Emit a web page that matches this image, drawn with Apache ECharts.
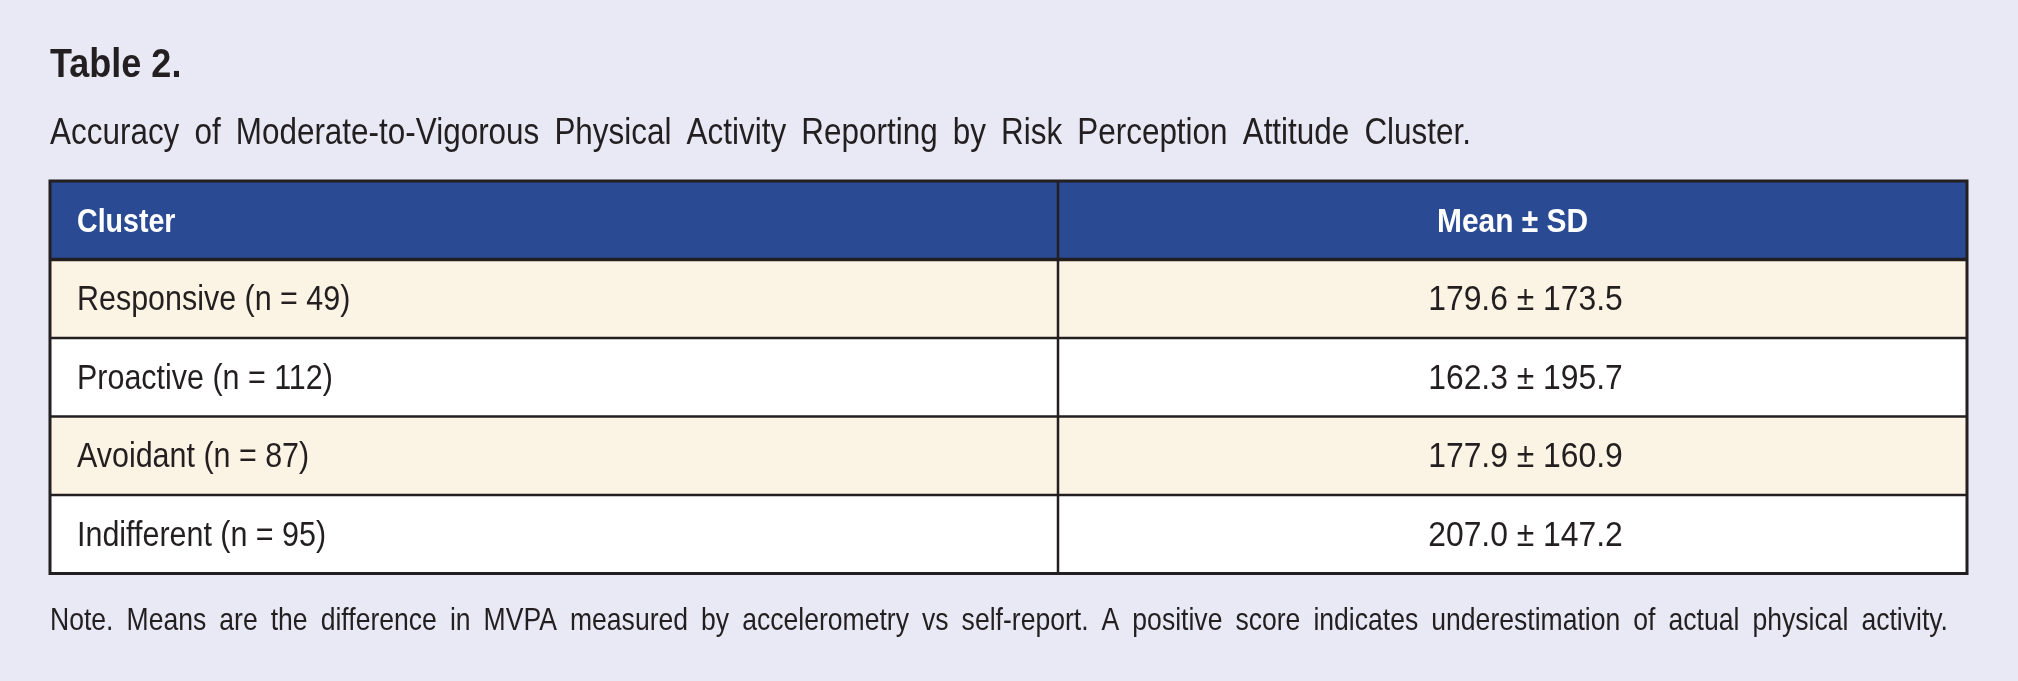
<!DOCTYPE html>
<html lang="en">
<head>
    <meta charset="utf-8">
    <title>Table 2</title>
    <script src="https://cdn.jsdelivr.net/npm/echarts@6.0.0/dist/echarts.min.js"></script>
    <style>
        html, body { margin: 0; padding: 0; background: #e9e9f5; }
        #chart { width: 2018px; height: 681px; }
    </style>
</head>
<body>
<div id="chart"></div>

<script>
    // table content
    var tableLabel = 'Table 2.';
    var caption = 'Accuracy of Moderate-to-Vigorous Physical Activity Reporting by Risk Perception Attitude Cluster.';
    var headers = ['Cluster', 'Mean \u00b1 SD'];
    var clusters = ['Responsive (n = 49)', 'Proactive (n = 112)', 'Avoidant (n = 87)', 'Indifferent (n = 95)'];
    var means = [179.6, 162.3, 177.9, 207.0];
    var sds = [173.5, 195.7, 160.9, 147.2];
    var note = 'Note. Means are the difference in MVPA measured by accelerometry vs self-report. A positive score indicates underestimation of actual physical activity.';

    // no narrow face installed, so squeeze Liberation Sans horizontally
    var FONT = "'Liberation Sans', Arial, sans-serif";
    var tblLeft = 50, tblRight = 1967, tblTop = 181, rowH = 78.5, colX = 1058;
    var headFill = '#2a4b93', creamFill = '#fbf3e3', lineCol = '#231f20';

    var measureCtx = document.createElement('canvas').getContext('2d');

    // spread the words of one line over a given width, like the justified print
    function justified(text, x, y, width, size, squeeze) {
        var font = 'normal ' + size + 'px ' + FONT;
        measureCtx.font = font;
        var words = text.split(' ');
        var widths = words.map(function (w) { return measureCtx.measureText(w).width * squeeze; });
        var total = widths.reduce(function (a, b) { return a + b; }, 0);
        var gap = (width - total) / (words.length - 1);
        var out = [], cx = x;
        words.forEach(function (w, i) {
            out.push({
                type: 'text', x: cx, y: y, scaleX: squeeze,
                style: { text: w, font: font, fill: '#231f20', textAlign: 'left', textVerticalAlign: 'middle' }
            });
            cx += widths[i] + gap;
        });
        return out;
    }

    function label(text, x, y, size, squeeze, opts) {
        opts = opts || {};
        return {
            type: 'text', x: x, y: y, z: 10, scaleX: squeeze,
            style: {
                text: text,
                font: (opts.weight || 'normal') + ' ' + size + 'px ' + FONT,
                fill: opts.fill || '#231f20',
                textAlign: opts.align || 'left',
                textVerticalAlign: 'middle'
            }
        };
    }

    function buildGraphics() {
        var g = [];
        var nRows = clusters.length;
        var tblBottom = tblTop + rowH * (nRows + 1);
        var midCol = (colX + tblRight) / 2;

        g.push(label(tableLabel, tblLeft, 66, 40, 0.9, { weight: 'bold' }));
        g = g.concat(justified(caption, tblLeft, 134, 1421, 37, 0.85));

        // header band
        g.push({ type: 'rect', shape: { x: tblLeft, y: tblTop, width: tblRight - tblLeft, height: rowH }, style: { fill: headFill } });
        g.push(label(headers[0], 77, tblTop + rowH / 2 + 2, 34, 0.84, { weight: 'bold', fill: '#ffffff' }));
        g.push(label(headers[1], midCol, tblTop + rowH / 2 + 2, 34, 0.88, { weight: 'bold', fill: '#ffffff', align: 'center' }));

        // body rows
        clusters.forEach(function (c, i) {
            var y0 = tblTop + rowH * (i + 1);
            g.push({
                type: 'rect', shape: { x: tblLeft, y: y0, width: tblRight - tblLeft, height: rowH },
                style: { fill: i % 2 === 0 ? creamFill : '#ffffff' }
            });
            g.push(label(c, 77, y0 + rowH / 2 + 2, 35, 0.87));
            g.push(label(means[i].toFixed(1) + ' \u00b1 ' + sds[i].toFixed(1), midCol + 13, y0 + rowH / 2 + 2, 35, 0.91, { align: 'center' }));
        });

        // rules
        for (var r = 1; r <= nRows; r++) {
            var yy = tblTop + rowH * r;
            g.push({ type: 'line', z: 5, shape: { x1: tblLeft, y1: yy, x2: tblRight, y2: yy }, style: { stroke: lineCol, lineWidth: r === 1 ? 3.5 : 2.5 } });
        }
        g.push({ type: 'line', z: 5, shape: { x1: colX, y1: tblTop, x2: colX, y2: tblBottom }, style: { stroke: lineCol, lineWidth: 2.5 } });
        g.push({
            type: 'rect', z: 6, shape: { x: tblLeft, y: tblTop, width: tblRight - tblLeft, height: tblBottom - tblTop },
            style: { fill: null, stroke: lineCol, lineWidth: 3 }
        });

        g = g.concat(justified(note, tblLeft, 621, 1898, 32, 0.83));
        return g;
    }

    var chart = echarts.init(document.getElementById('chart'));
    chart.setOption({
        backgroundColor: '#e9e9f5',
        animation: false,
        graphic: buildGraphics()
    });
</script>
</body>
</html>
